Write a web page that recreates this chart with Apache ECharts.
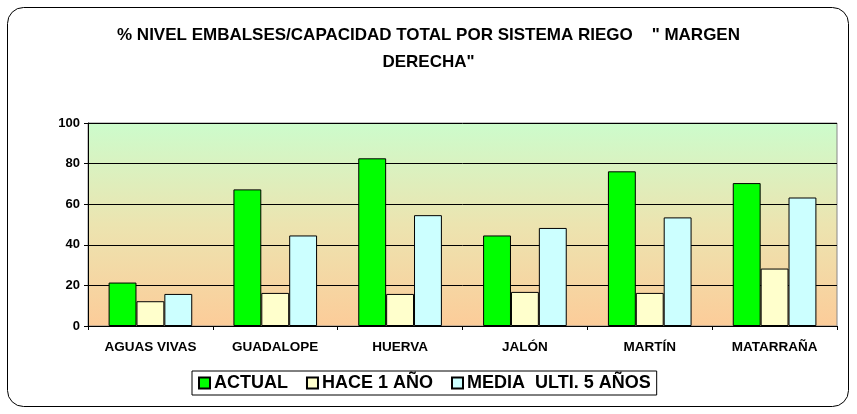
<!DOCTYPE html>
<html>
<head>
<meta charset="UTF-8">
<script src="https://cdn.jsdelivr.net/npm/echarts@6/dist/echarts.min.js"></script>
<style>
  html, body { margin: 0; padding: 0; background: #fff; }
  #chart { width: 857px; height: 414px; }
</style>
</head>
<body>
<div id="chart"></div>
<script>
// datos
var sistemas = ['AGUAS VIVAS', 'GUADALOPE', 'HUERVA', 'JALÓN', 'MARTÍN', 'MATARRAÑA'];
var actual = [21.4, 67.3, 82.6, 44.6, 76.2, 70.4];
var hace1 = [12.2, 16.3, 15.8, 16.8, 16.3, 28.3];
var media5 = [15.8, 44.6, 54.6, 48.3, 53.5, 63.3];
var yTicks = [0, 20, 40, 60, 80, 100];

var chart = echarts.init(document.getElementById('chart'));
var fuente = 'Liberation Sans, Arial, sans-serif';

function serie(nombre, datos, color) {
    return {
        name: nombre,
        type: 'bar',
        data: datos,
        barGap: '0%',
        barCategoryGap: '33%',
        itemStyle: { color: color, borderColor: '#000', borderWidth: 1 }
    };
}

var option = {
    animation: false,
    textStyle: { fontFamily: fuente },
    title: {
        text: '% NIVEL EMBALSES/CAPACIDAD TOTAL POR SISTEMA RIEGO    " MARGEN\nDERECHA"',
        left: 'center',
        top: 17,
        textStyle: { fontSize: 17, fontWeight: 'bold', color: '#000', lineHeight: 27, fontFamily: fuente }
    },
    graphic: [{
        type: 'rect',
        shape: { x: 7.5, y: 7.5, width: 841, height: 399, r: 16 },
        style: { fill: 'none', stroke: '#000', lineWidth: 1 },
        z: -10
    }],
    legend: {
        data: ['ACTUAL', 'HACE 1 AÑO', 'MEDIA  ULTI. 5 AÑOS'],
        left: 192,
        top: 371,
        itemWidth: 11,
        itemHeight: 11,
        itemGap: 18,
        padding: [3, 6],
        borderColor: '#000',
        borderWidth: 1,
        icon: 'rect',
        textStyle: { fontSize: 18, fontWeight: 'bold', color: '#000', fontFamily: fuente, padding: [0, 0, 0, -1] }
    },
    grid: {
        left: 88, right: 20, top: 123, bottom: 88,
        show: true,
        borderColor: '#888',
        borderWidth: 1,
        backgroundColor: {
            type: 'linear', x: 0, y: 0, x2: 0, y2: 1,
            colorStops: [
                { offset: 0, color: '#ccfccc' },
                { offset: 0.5, color: '#ece4b0' },
                { offset: 1, color: '#fccc99' }
            ]
        }
    },
    xAxis: {
        type: 'category',
        data: sistemas,
        axisLine: { lineStyle: { color: '#000' } },
        axisTick: { show: true, length: 4, lineStyle: { color: '#000' } },
        axisLabel: { fontSize: 13.5, fontWeight: 'bold', color: '#000', margin: 14 }
    },
    yAxis: {
        type: 'value',
        min: yTicks[0],
        max: yTicks[yTicks.length - 1],
        interval: 20,
        axisLine: { show: true, lineStyle: { color: '#000' } },
        axisTick: { show: true, length: 4, lineStyle: { color: '#000' } },
        axisLabel: { fontSize: 13, fontWeight: 'bold', color: '#000', margin: 8 },
        splitLine: { lineStyle: { color: '#000', width: 1 } }
    },
    series: [
        serie('ACTUAL', actual, '#00ff00'),
        serie('HACE 1 AÑO', hace1, '#ffffcc'),
        serie('MEDIA  ULTI. 5 AÑOS', media5, '#ccffff')
    ]
};

chart.setOption(option);
</script>
</body>
</html>
